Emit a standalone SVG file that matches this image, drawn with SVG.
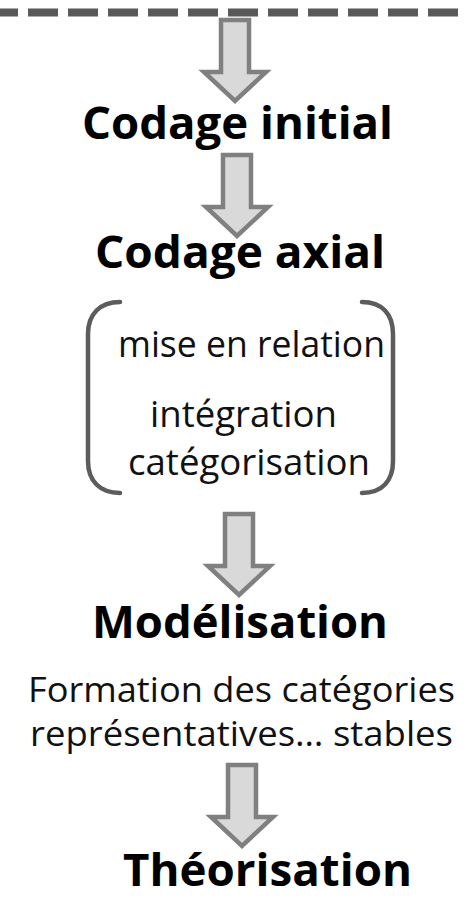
<svg xmlns="http://www.w3.org/2000/svg" xmlns:xlink="http://www.w3.org/1999/xlink" width="467" height="898" viewBox="0 0 467 898">
  <style>
    .h { font-family: "Open Sans", "Liberation Sans", sans-serif; font-weight: 700; font-size: 45px; fill: #000; }
    .t { font-family: "Open Sans", "Liberation Sans", sans-serif; font-weight: 400; font-size: 37px; fill: #111; }
    .s { font-size: 35px; }
    .arr { fill: #d9d9d9; stroke: #808080; stroke-width: 4.5; stroke-linejoin: miter; }
    .br { fill: none; stroke: #5c5c5c; stroke-width: 4.5; stroke-linecap: round; }
  </style>
  <defs>
    <path id="arrow" d="M-14,0 H14 V52 H31 L0,81 L-31,52 H-14 Z"/>
  </defs>
  <rect width="467" height="898" fill="#fff"/>
  <g id="connectors">
    <use xlink:href="#arrow" class="arr" transform="translate(235,20)"/>
    <use xlink:href="#arrow" class="arr" transform="translate(237,155)"/>
    <use xlink:href="#arrow" class="arr" transform="translate(239,514)"/>
    <use xlink:href="#arrow" class="arr" transform="translate(242,765)"/>
  </g>
  <g id="separator">
    <line x1="0" y1="12.5" x2="467" y2="12.5" stroke="#595959" stroke-width="8" stroke-dasharray="30 10" stroke-dashoffset="12"/>
  </g>
  <g id="codage-initial">
    <text class="h" x="82" y="139" textLength="311" lengthAdjust="spacingAndGlyphs">Codage initial</text>
  </g>
  <g id="codage-axial">
    <text class="h" x="95" y="268" textLength="290" lengthAdjust="spacingAndGlyphs">Codage axial</text>
  </g>
  <g id="codage-axial-details">
    <path class="br" d="M120,302 C100,302 88,314 88,334 V461 C88,481 100,493 120,493"/>
    <path class="br" d="M362,302 C382,302 393,314 393,334 V461 C393,481 382,493 362,493"/>
    <text class="t" x="118" y="357" textLength="267" lengthAdjust="spacingAndGlyphs">mise en relation</text>
    <text class="t" x="150" y="427" textLength="187" lengthAdjust="spacingAndGlyphs">intégration</text>
    <text class="t" x="128" y="475" textLength="242" lengthAdjust="spacingAndGlyphs">catégorisation</text>
  </g>
  <g id="modelisation">
    <text class="h" x="92" y="638" textLength="296" lengthAdjust="spacingAndGlyphs">Modélisation</text>
    <text class="t s" x="28" y="702" textLength="427" lengthAdjust="spacingAndGlyphs">Formation des catégories</text>
    <text class="t s" x="30" y="746" textLength="423" lengthAdjust="spacingAndGlyphs">représentatives… stables</text>
  </g>
  <g id="theorisation">
    <text class="h" x="123" y="886" textLength="289" lengthAdjust="spacingAndGlyphs">Théorisation</text>
  </g>
</svg>
